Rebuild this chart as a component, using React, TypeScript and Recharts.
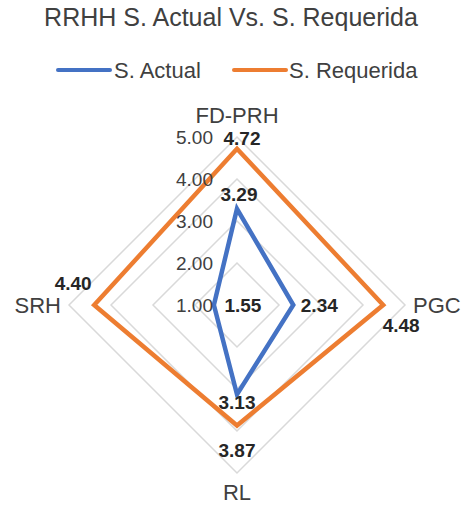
import React from 'react';
import { RadarChart, Radar, PolarGrid, PolarAngleAxis, PolarRadiusAxis, Legend, LabelList } from 'recharts';

const categories = ['FD-PRH', 'PGC', 'RL', 'SRH'];
const actual = [3.29, 2.34, 3.13, 1.55];
const requerida = [4.72, 4.48, 3.87, 4.4];
const radiusTicks = [1, 2, 3, 4, 5];

const data = categories.map((c, i) => ({ name: c, actual: actual[i], requerida: requerida[i] }));

const BLUE = '#4472C4';
const ORANGE = '#ED7D31';
const FONT = '"Liberation Sans", Arial, sans-serif';

// label offsets (from the vertex to the label centre), per category
const actualOffsets = [[2, -14], [26, 0], [0, 8], [29, 0]];
const requeridaOffsets = [[5, -10], [18, 20], [0, 25], [-21, -22]];

const makeLabel = (offsets: number[][]) => (props: any) => {
  const { x, y, value, index } = props;
  const [dx, dy] = offsets[index] || [0, 0];
  return (
    <text x={x + dx} y={y + dy} textAnchor="middle" dominantBaseline="central"
      fontFamily={FONT} fontSize={19} fontWeight="bold" fill="#262626">
      {Number(value).toFixed(2)}
    </text>
  );
};

const AngleTick = (props: any) => {
  const { x, y, payload, textAnchor } = props;
  let ty = y;
  if (textAnchor === 'middle') ty = y < 305 ? y - 14 : y + 11;
  return (
    <text x={x} y={ty} textAnchor={textAnchor} dominantBaseline="central"
      fontFamily={FONT} fontSize={22} fill="#404040">
      {payload.value}
    </text>
  );
};

const RadiusTick = (props: any) => {
  const { x, y, payload } = props;
  return (
    <text x={x - 24} y={y} textAnchor="end" dominantBaseline="central"
      fontFamily={FONT} fontSize={19} fill="#404040">
      {Number(payload.value).toFixed(2)}
    </text>
  );
};

const LegendContent = () => (
  <svg width={462} height={30} style={{ display: 'block' }}>
    <line x1={58} y1={15} x2={110} y2={15} stroke={BLUE} strokeWidth={4} strokeLinecap="round" />
    <text x={114} y={15} dominantBaseline="central" fontFamily={FONT} fontSize={22} fill="#404040">S. Actual</text>
    <line x1={234} y1={15} x2={286} y2={15} stroke={ORANGE} strokeWidth={4} strokeLinecap="round" />
    <text x={289} y={15} dominantBaseline="central" fontFamily={FONT} fontSize={22} fill="#404040">S. Requerida</text>
  </svg>
);

export default function App() {
  return (
    <div style={{ position: 'absolute', left: 0, top: 0, width: 462, height: 505, background: '#fff' }}>
      <div style={{ position: 'absolute', left: 0, top: 3, width: 462, textAlign: 'center', fontFamily: FONT, fontSize: 25, color: '#404040' }}>
        RRHH S. Actual Vs. S. Requerida
      </div>
      <RadarChart width={462} height={505} data={data} cx={237} cy={305} outerRadius={168}
        startAngle={90} endAngle={-270} margin={{ top: 0, right: 0, bottom: 0, left: 0 }}>
        <PolarGrid gridType="polygon" radialLines={false} stroke="#d9d9d9" strokeWidth={1.5} />
        <PolarAngleAxis dataKey="name" tick={AngleTick} tickLine={false} axisLine={false} />
        <PolarRadiusAxis angle={90} domain={[1, 5]} ticks={radiusTicks as any} tickCount={5}
          tick={RadiusTick} axisLine={false} tickLine={false} />
        <Legend verticalAlign="top" wrapperStyle={{ top: 55, left: 0, width: 462 }} content={LegendContent} />
        <Radar name="S. Actual" dataKey="actual" stroke={BLUE} strokeWidth={4.5} fill="none" fillOpacity={0}
          isAnimationActive={false} strokeLinejoin="miter">
          <LabelList dataKey="actual" content={makeLabel(actualOffsets)} />
        </Radar>
        <Radar name="S. Requerida" dataKey="requerida" stroke={ORANGE} strokeWidth={4.5} fill="none" fillOpacity={0}
          isAnimationActive={false} strokeLinejoin="miter">
          <LabelList dataKey="requerida" content={makeLabel(requeridaOffsets)} />
        </Radar>
      </RadarChart>
    </div>
  );
}
